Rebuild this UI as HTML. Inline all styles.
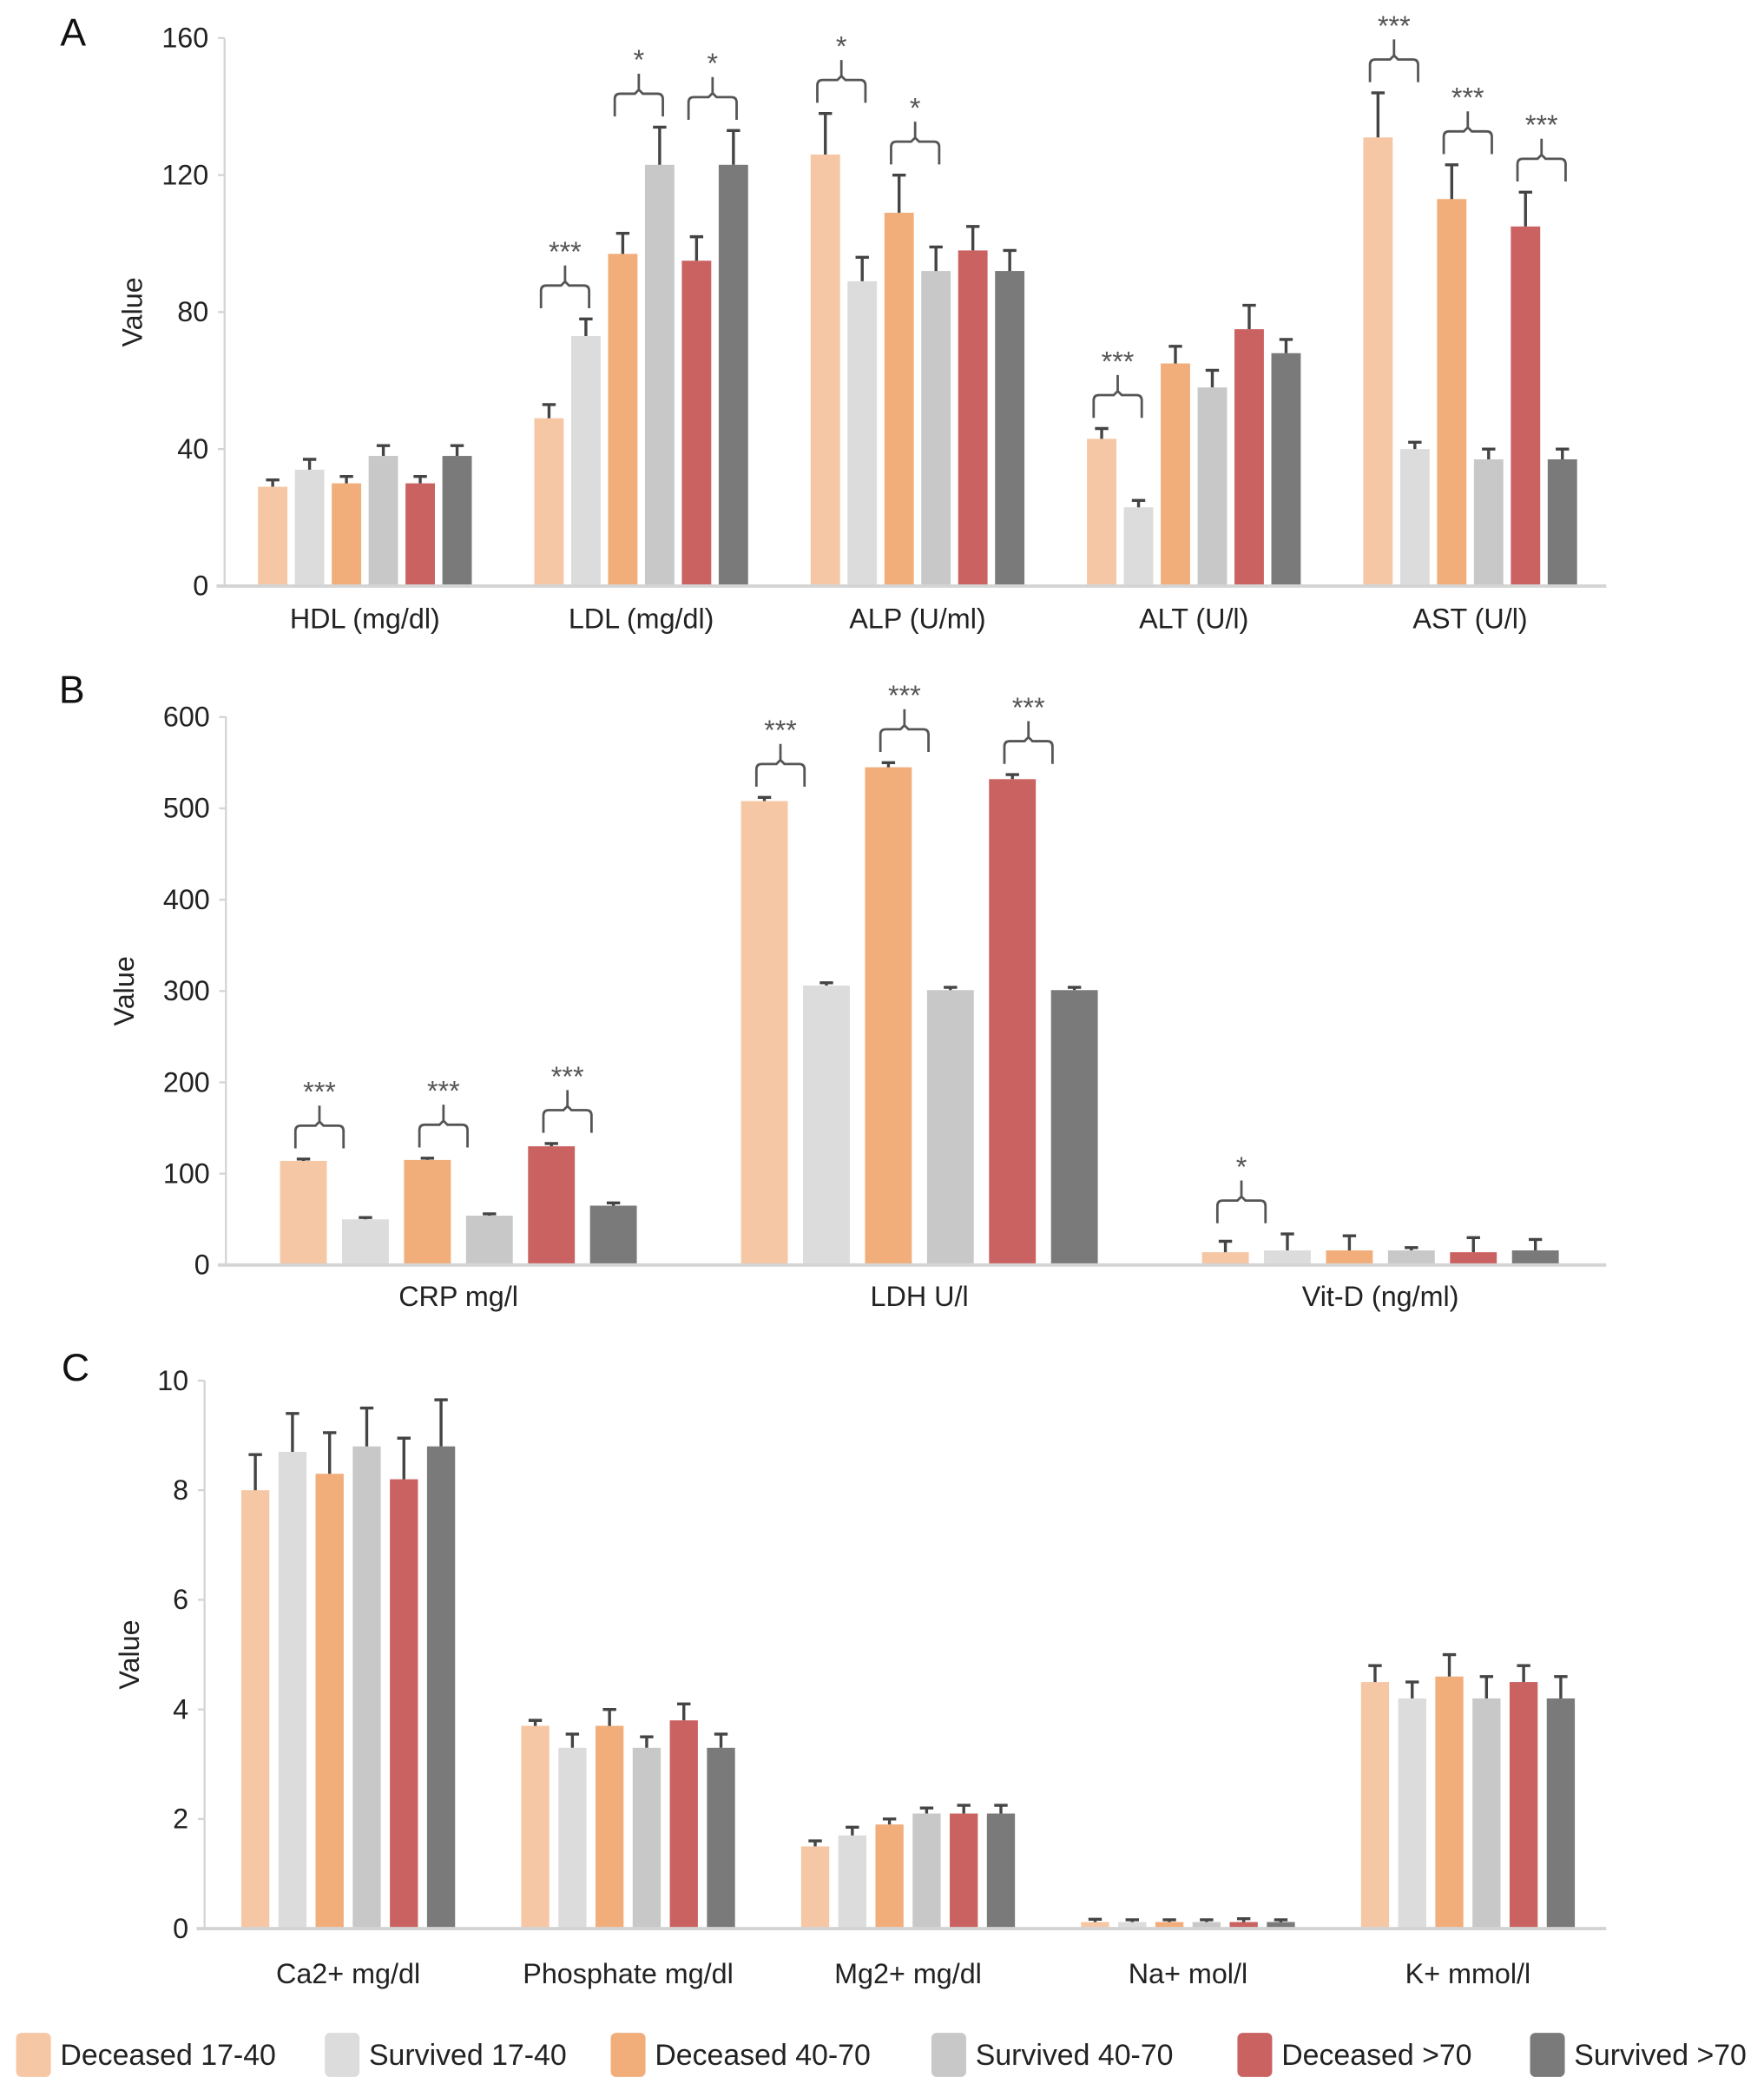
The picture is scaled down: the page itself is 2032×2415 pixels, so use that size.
<!DOCTYPE html>
<html><head><meta charset="utf-8"><style>
html,body{margin:0;padding:0;background:#fff}
svg{display:block}
text{font-family:"Liberation Sans",sans-serif}
</style></head><body>
<svg id="fig" xmlns="http://www.w3.org/2000/svg" width="2032" height="2415" viewBox="0 0 1320 1569">
<rect width="1320" height="1569" fill="#fff"/>
</svg>
<script>
const colors = ["#f6c7a5","#dcdcdc","#f1ad7a","#c8c8c8","#c96261","#7a7a7a"];
const seriesNames = ["Deceased 17-40","Survived 17-40","Deceased 40-70","Survived 40-70","Deceased >70","Survived >70"];

const catsA = ["HDL (mg/dl)","LDL (mg/dl)","ALP (U/ml)","ALT (U/l)","AST (U/l)"];
const valsA = [[29,34,30,38,30,38],[49,73,97,123,95,123],[126,89,109,92,98,92],[43,23,65,58,75,68],[131,40,113,37,105,37]];
const errsA = [[2,3,2,3,2,3],[4,5,6,11,7,10],[12,7,11,7,7,6],[3,2,5,5,7,4],[13,2,10,3,10,3]];
const ticksA = [0,40,80,120,160];
const sigA = [[1,0,"***"],[1,2,"*"],[1,4,"*"],[2,0,"*"],[2,2,"*"],[3,0,"***"],[4,0,"***"],[4,2,"***"],[4,4,"***"]];

const catsB = ["CRP mg/l","LDH U/l","Vit-D (ng/ml)"];
const valsB = [[114,50,115,54,130,65],[508,306,545,301,532,301],[14,16,16,16,14,16]];
const errsB = [[2,2,2,2,3,3],[4,3,5,3,5,3],[12,18,16,3,16,12]];
const ticksB = [0,100,200,300,400,500,600];
const sigB = [[0,0,"***"],[0,2,"***"],[0,4,"***"],[1,0,"***"],[1,2,"***"],[1,4,"***"],[2,0,"*"]];

const catsC = ["Ca2+ mg/dl","Phosphate mg/dl","Mg2+ mg/dl","Na+ mol/l","K+ mmol/l"];
const valsC = [[8.0,8.7,8.3,8.8,8.2,8.8],[3.7,3.3,3.7,3.3,3.8,3.3],[1.5,1.7,1.9,2.1,2.1,2.1],[0.12,0.12,0.12,0.12,0.12,0.12],[4.5,4.2,4.6,4.2,4.5,4.2]];
const errsC = [[0.65,0.7,0.75,0.7,0.75,0.85],[0.1,0.25,0.3,0.2,0.3,0.25],[0.1,0.15,0.1,0.1,0.15,0.15],[0.05,0.04,0.04,0.04,0.06,0.04],[0.3,0.3,0.4,0.4,0.3,0.4]];
const ticksC = [0,2,4,6,8,10];
const sigC = [];

const NS="http://www.w3.org/2000/svg";
const svg=document.getElementById("fig");
function mk(tag,attrs,parent){const e=document.createElementNS(NS,tag);for(const k in attrs)e.setAttribute(k,attrs[k]);(parent||svg).appendChild(e);return e;}

function panel(cfg){
  const g=mk("g",{});
  
  
  const maxV=cfg.ticks[cfg.ticks.length-1];
  const y=v=>cfg.y0-(v/maxV)*(cfg.y0-cfg.yTop);
  const bx=(c,s)=>cfg.gx0+c*cfg.gp+s*cfg.bp;
  const L=mk("text",{x:cfg.letterX,y:cfg.letterY,"font-size":29,fill:"#111"},g);L.textContent=cfg.letter;
  
  
  const ax=mk("line",{x1:cfg.ax,y1:cfg.yTop,x2:cfg.ax,y2:cfg.y0,stroke:"#d4d4d4","stroke-width":1.5},g);
  
  
  cfg.ticks.forEach(t=>{
    mk("line",{x1:cfg.ax-5,y1:y(t),x2:cfg.ax,y2:y(t),stroke:"#d4d4d4","stroke-width":1.5},g);
    const tt=mk("text",{x:cfg.ax-12,y:y(t)+7,"font-size":21,"text-anchor":"end",fill:"#222"},g);tt.textContent=t;
    
    
  });
  const yl=mk("text",{x:0,y:0,"font-size":21,"text-anchor":"middle",fill:"#222",transform:`translate(${cfg.ylx},${(cfg.yTop+cfg.y0)/2}) rotate(-90)`},g);yl.textContent="Value";
  
  
  cfg.vals.forEach((row,c)=>{
    row.forEach((v,s)=>{
      const x=bx(c,s);
      const r=mk("rect",{x:x,y:y(v),width:cfg.bw,height:cfg.y0-y(v),fill:colors[s]},g);
      
      
      const e=cfg.errs[c][s], cx=x+cfg.bw/2, ye=y(v+e);
      const el=mk("path",{d:`M${cx},${y(v)}V${ye}M${cx-5},${ye}H${cx+5}`,stroke:"#444","stroke-width":2.2,fill:"none"},g);
      
      
    });
    const lab=mk("text",{x:bx(c,0)+(5*cfg.bp+cfg.bw)/2,y:cfg.labY,"font-size":21,"text-anchor":"middle",fill:"#222"},g);lab.textContent=cfg.cats[c];
    
    
  });
  const xa=mk("line",{x1:cfg.ax-6,y1:cfg.y0,x2:cfg.axEnd,y2:cfg.y0,stroke:"#d4d4d4","stroke-width":2.5},g);
  
  
  cfg.sig.forEach(([c,s,lbl])=>{
    const v=Math.max(cfg.vals[c][s]+cfg.errs[c][s],cfg.vals[c][s+1]+cfg.errs[c][s+1]);
    const top=y(v);
    const xl=bx(c,s)+cfg.bw/2-6, xr=xl+36, xm=(xl+xr)/2;
    const b=top-8, t=b-17;
    const p=mk("path",{d:`M${xl},${b}V${t+4}Q${xl},${t} ${xl+4},${t}H${xm-3}L${xm},${t-3}L${xm+3},${t}H${xr-4}Q${xr},${t} ${xr},${t+4}V${b}M${xm},${t-3}V${t-15}`,stroke:"#555","stroke-width":1.8,fill:"none"},g);
    
    
    const st=mk("text",{x:xm,y:t-18,"font-size":21,"text-anchor":"middle",fill:"#555"},g);st.textContent=lbl;
    
    
  });
}

panel({name:"panel-a",letter:"A",letterX:45,letterY:34,ax:168,axEnd:1202,yTop:28.5,y0:438.5,ticks:ticksA,vals:valsA,errs:errsA,cats:catsA,sig:sigA,gx0:193,gp:206.8,bp:27.6,bw:22,labY:470,ylx:106});
panel({name:"panel-b",letter:"B",letterX:44,letterY:526,ax:169,axEnd:1202,yTop:536.5,y0:946.5,ticks:ticksB,vals:valsB,errs:errsB,cats:catsB,sig:sigB,gx0:209.5,gp:345,bp:46.4,bw:35,labY:977,ylx:100});
panel({name:"panel-c",letter:"C",letterX:46,letterY:1033,ax:153,axEnd:1202,yTop:1033,y0:1443,ticks:ticksC,vals:valsC,errs:errsC,cats:catsC,sig:sigC,gx0:180.5,gp:209.5,bp:27.8,bw:21,labY:1484,ylx:104});

const legX=[12,243,457,697,926,1145];
seriesNames.forEach((n,i)=>{
  const r=mk("rect",{x:legX[i],y:1521,width:26,height:33,rx:4,fill:colors[i]});
  
  
  const t=mk("text",{x:legX[i]+33,y:1545,"font-size":22,fill:"#222"});t.textContent=n;
  
  
});
</script>
</body></html>
